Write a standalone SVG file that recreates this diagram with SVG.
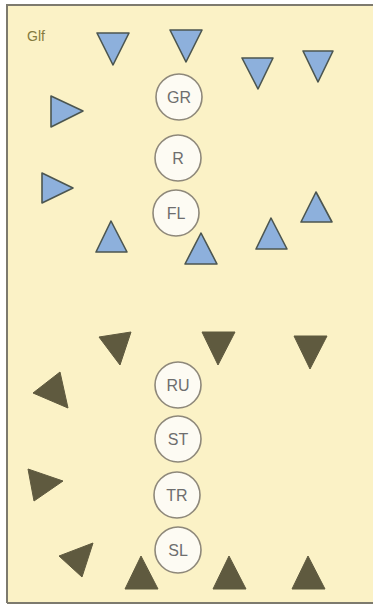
<svg xmlns="http://www.w3.org/2000/svg" width="377" height="614" viewBox="0 0 377 614">
<style>
.bg{fill:#fbf2c6}
.frame{fill:none;stroke:#7d7a6e;stroke-width:2}
.blue{fill:#8db0dc;stroke:#4c5650;stroke-width:1.6;stroke-linejoin:round}
.dark{fill:#5f5a3f;stroke:#5f5a3f;stroke-width:1;stroke-linejoin:round}
.pc{fill:#fdfbf3;stroke:#8e887a;stroke-width:1.6}
.pt{font-family:"Liberation Sans",Arial,sans-serif;font-size:16px;fill:#6e6e6e;text-anchor:middle}
.title{font-family:"Liberation Sans",Arial,sans-serif;font-size:14px;fill:#857a3e}
</style>
<rect x="0" y="0" width="377" height="614" fill="#ffffff"/>
<rect class="bg" x="7" y="5" width="366" height="598"/>
<path class="frame" d="M7,603 V5 H373 M7,603 H373"/>
<text class="title" x="27" y="41">Glf</text>
<g id="defense">
<polygon class="blue" points="97,33 129,33 113,65"/>
<polygon class="blue" points="170,30 202,30 186,62"/>
<polygon class="blue" points="242,58 273,58 258,89"/>
<polygon class="blue" points="303,51 333,51 318,82"/>
<polygon class="blue" points="51,96 83,111 51,127"/>
<polygon class="blue" points="42,173 73,188 42,203"/>
<polygon class="blue" points="96,252 127,252 111,221"/>
<polygon class="blue" points="185,264 217,264 201,233"/>
<polygon class="blue" points="256,249 287,249 271,218"/>
<polygon class="blue" points="301,222 332,222 316,192"/>
</g>
<g id="offense">
<polygon class="dark" points="99,337 131,332 120,365"/>
<polygon class="dark" points="202,332 235,332 218,365"/>
<polygon class="dark" points="294,336 327,336 310,369"/>
<polygon class="dark" points="33,393 60,372 68,408"/>
<polygon class="dark" points="28,469 63,481 34,501"/>
<polygon class="dark" points="59,556 93,543 82,577"/>
<polygon class="dark" points="125,589 158,589 141,556"/>
<polygon class="dark" points="213,589 246,589 229,556"/>
<polygon class="dark" points="292,589 325,589 308,556"/>
</g>
<g id="GR"><circle class="pc" cx="179" cy="97" r="23"/><text class="pt" x="179" y="103">GR</text></g>
<g id="R"><circle class="pc" cx="178" cy="158" r="23"/><text class="pt" x="178" y="164">R</text></g>
<g id="FL"><circle class="pc" cx="176" cy="213" r="23"/><text class="pt" x="176" y="219">FL</text></g>
<g id="RU"><circle class="pc" cx="178" cy="385" r="23"/><text class="pt" x="178" y="391">RU</text></g>
<g id="ST"><circle class="pc" cx="178" cy="439" r="23"/><text class="pt" x="178" y="445">ST</text></g>
<g id="TR"><circle class="pc" cx="177" cy="495" r="23"/><text class="pt" x="177" y="501">TR</text></g>
<g id="SL"><circle class="pc" cx="178" cy="550" r="23"/><text class="pt" x="178" y="556">SL</text></g>
<g id="connectors"/>
</svg>
